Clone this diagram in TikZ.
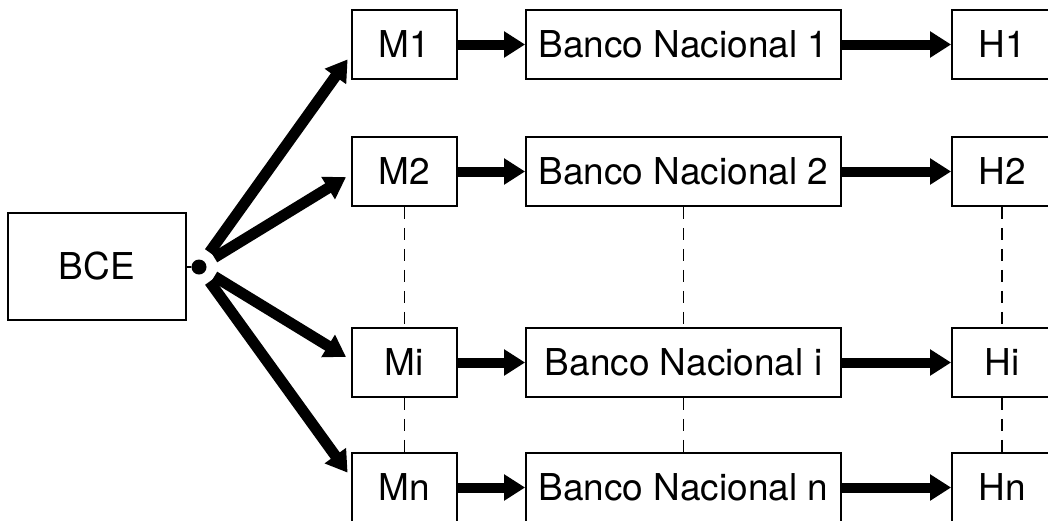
\documentclass[tikz,border=0pt]{standalone}
\usepackage{fontspec}
\setmainfont{TeX Gyre Heros}
\usetikzlibrary{arrows.meta}

\begin{document}
\begin{tikzpicture}[x=1pt,y=-1pt,
	box/.style={shape=rectangle,draw=black,line width=1.8pt,inner sep=0pt,minimum height=69pt,font=\fontsize{37}{40}\selectfont},
	fat/.style={line width=10pt,-{Triangle[length=21pt,width=25pt]}},
	fan/.style={fat,line width=11pt,shorten <=18pt,shorten >=6pt},
	link/.style={line width=1.8pt,dash pattern=on 12pt off 9pt}]
			\useasboundingbox (0,0) rectangle (1048,520);
			\node[box,minimum width=178pt,minimum height=107pt] (bce) at (97,266.5) {BCE};
			\node[shape=circle,fill=black,inner sep=0pt,minimum size=15pt] (dot) at (199,267) {};

			\node[box,minimum width=105pt] (m1) at (404.5,44.5) {M1};
			\node[box,minimum width=315pt] (b1) at (683.5,44.5) {Banco Nacional 1};
			\node[box,minimum width=100pt] (h1) at (1002,44.5) {H1};
			\node[box,minimum width=105pt] (m2) at (404.5,171.5) {M2};
			\node[box,minimum width=315pt] (b2) at (683.5,171.5) {Banco Nacional 2};
			\node[box,minimum width=100pt] (h2) at (1002,171.5) {H2};
			\node[box,minimum width=105pt] (mi) at (404.5,362.5) {Mi};
			\node[box,minimum width=315pt] (bi) at (683.5,362.5) {Banco Nacional i};
			\node[box,minimum width=100pt] (hi) at (1002,362.5) {Hi};
			\node[box,minimum width=105pt] (mn) at (404.5,487.5) {Mn};
			\node[box,minimum width=315pt] (bn) at (683.5,487.5) {Banco Nacional n};
			\node[box,minimum width=100pt] (hn) at (1002,487.5) {Hn};

			%% lines
			\draw[line width=1.8pt] (bce) -- (dot);
			\draw[fan] (dot.center) -- ([yshift=-10pt]m1.west);
			\draw[fan] (dot.center) -- ([yshift=-2.5pt]m2.west);
			\draw[fan] (dot.center) -- ([yshift=2.5pt]mi.west);
			\draw[fan] (dot.center) -- ([yshift=10pt]mn.west);
			\foreach \r in {1,2,i,n} {
				\draw[fat] (m\r) -- (b\r);
				\draw[fat] (b\r) -- (h\r);
			}
			\foreach \c in {m,b,h} {
				\draw[link] (\c2) -- (\c i);
				\draw[link] (\c i) -- (\c n);
			}
		\end{tikzpicture}
\end{document}
